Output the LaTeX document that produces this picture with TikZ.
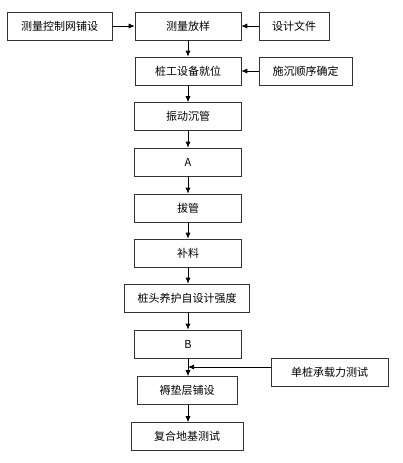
\documentclass[tikz,border=0pt]{standalone}
\usepackage{fontspec}
\newfontfamily\cjk{Noto Sans CJK SC}
\usetikzlibrary{arrows.meta,calc,positioning}

\begin{document}
\begin{tikzpicture}[
  x=1pt, y=-1pt,
  box/.style={draw=black!80, line width=0.6pt, minimum height=28pt,
    inner sep=0pt, font=\cjk\fontsize{11}{13}\selectfont},
  line/.style={line width=0.7pt, -{Latex[length=6pt,width=5pt]}}
]
\useasboundingbox (0,0) rectangle (402,463);

% axis of the main column
\coordinate (col) at (188,0);

%================================================
% TOP ROW
%================================================
\node[box, minimum width=105pt] (net)    at (59.5,26) {测量控制网铺设};
\node[box, minimum width=106pt] (survey) at (188,26)  {测量放样};
\node[box, minimum width=70pt]  (design) at (294,26)  {设计文件};

\draw[line] (net) -- (survey);
\draw[line] (design) -- (survey);

%================================================
% MAIN COLUMN
%================================================
\node[box, minimum width=106pt] (equip) at (188,71)    {桩工设备就位};
\node[box, minimum width=93pt]  (order) at (305.5,71)  {施沉顺序确定};
\node[box, minimum width=107pt] (vib)   at (188,116.5) {振动沉管};
\node[box, minimum width=107pt] (A)     at (188,162)   {A};
\node[box, minimum width=107pt] (pull)  at (188,208)   {拔管};
\node[box, minimum width=107pt] (fill)  at (188,253)   {补料};
\node[box, minimum width=125pt] (cure)  at (187,298)   {桩头养护自设计强度};
\node[box, minimum width=107pt] (B)     at (188,344)   {B};
\node[box, minimum width=100pt] (pad)   at (187,390.5) {褥垫层铺设};
\node[box, minimum width=112pt] (test)  at (187,436.5) {复合地基测试};

\node[box, minimum width=117pt] (load)  at (329.5,372) {单桩承载力测试};

\draw[line] (order) -- (equip);

\foreach \a/\b in {survey/equip, equip/vib, vib/A, A/pull, pull/fill,
                   fill/cure, cure/B, B/pad, pad/test}
  \draw[line] (\a.south -| col) -- (\b.north -| col);

% side input to the pad
\coordinate (in) at ($(load.west)+(0,-5)$);
\draw[line] (in) -- (in -| col);

\end{tikzpicture}
\end{document}
